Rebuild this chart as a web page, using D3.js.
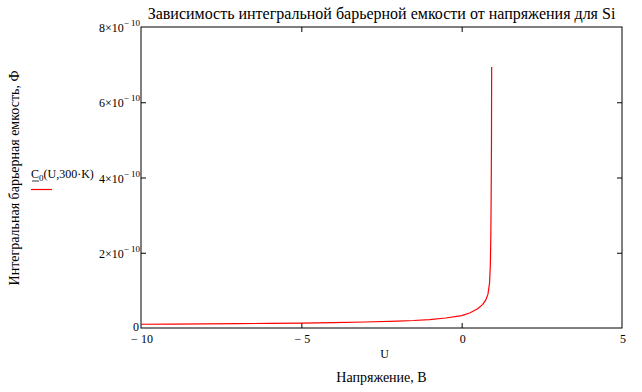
<!DOCTYPE html>
<html>
<head>
<meta charset="utf-8">
<script src="https://cdn.jsdelivr.net/npm/d3@7"></script>
<style>
  body { margin: 0; background: #fff; }
</style>
</head>
<body>
<div id="chart"></div>
<script>
// values (capacitance in farads vs voltage in volts)
var voltage = [-10, -9, -8, -7, -6, -5, -4, -3, -2, -1.5, -1, -0.5, 0, 0.25, 0.5, 0.65, 0.75, 0.82, 0.87, 0.895, 0.91, 0.92, 0.93, 0.935];
var capacity = [0.100e-10, 0.105e-10, 0.110e-10, 0.116e-10, 0.122e-10, 0.130e-10, 0.145e-10, 0.160e-10, 0.185e-10, 0.200e-10, 0.225e-10, 0.265e-10,
  0.330e-10, 0.400e-10, 0.510e-10, 0.620e-10, 0.740e-10, 0.900e-10, 1.20e-10, 1.70e-10, 2.50e-10, 3.50e-10, 5.00e-10, 6.94e-10];

var xTicks = [-10, -5, 0, 5];
var xTickLabels = ["\u2212 10", "\u2212 5", "0", "5"];
var yTicks = [0, 2e-10, 4e-10, 6e-10, 8e-10];
var yTickLabels = ["0", "2\u00d710", "4\u00d710", "6\u00d710", "8\u00d710"];
var yTickExp = ["", "\u2212 10", "\u2212 10", "\u2212 10", "\u2212 10"];

var title = "Зависимость интегральной барьерной емкости от напряжения для Si";
var xLabel = "Напряжение, В";
var xVarName = "U";
var yLabel = "Интегральная барьерная емкость, Ф";

var serif = "'Liberation Serif', 'Times New Roman', 'DejaVu Serif', serif";

var margin = { top: 27, right: 20, bottom: 64, left: 141 },
  width = 642 - margin.left - margin.right,
  height = 392 - margin.top - margin.bottom;

var x = d3.scaleLinear().domain([-10, 5]).range([0, width]);
var y = d3.scaleLinear().domain([0, 8e-10]).range([height, 0]);

var root = d3.select("#chart").append("svg")
  .attr("width", 642)
  .attr("height", 392)
  .attr("font-family", serif);

var svg = root.append("g")
  .attr("transform", "translate(" + margin.left + "," + margin.top + ")");

// frame
svg.append("rect")
  .attr("x", 0).attr("y", 0)
  .attr("width", width).attr("height", height)
  .attr("fill", "none")
  .attr("stroke", "#000")
  .attr("stroke-width", 1);

// inside ticks on all four sides, labels drawn separately
function tickAxis(axis, tx, ty) {
  var g = svg.append("g").attr("transform", "translate(" + tx + "," + ty + ")").call(axis);
  g.select(".domain").remove();
  g.selectAll("text").remove();
  g.selectAll("line").attr("stroke", "#000");
  return g;
}
var innerX = xTicks.slice(1, -1);
var innerY = yTicks.slice(1, -1);
tickAxis(d3.axisBottom(x).tickValues(innerX).tickSize(-5), 0, height);
tickAxis(d3.axisTop(x).tickValues(innerX).tickSize(-5), 0, 0);
tickAxis(d3.axisLeft(y).tickValues(innerY).tickSize(-5), 0, 0);
tickAxis(d3.axisRight(y).tickValues(innerY).tickSize(-5), width, 0);

// x tick labels
svg.append("g").selectAll("text")
  .data(xTicks)
  .enter()
  .append("text")
  .attr("x", function (d) { return x(d) + 1; })
  .attr("y", height + 15)
  .attr("text-anchor", "middle")
  .attr("font-family", serif)
  .style("font-size", "12px")
  .text(function (d, i) { return xTickLabels[i]; });

// y tick labels with superscript exponent
var yl = svg.append("g").selectAll("text")
  .data(yTicks)
  .enter()
  .append("text")
  .attr("x", function (d) { return d === 0 ? -2 : -1; })
  .attr("y", function (d) { return d === 0 ? y(d) + 3 : y(d) + 5; })
  .attr("text-anchor", "end")
  .attr("font-family", serif)
  .style("font-size", "12px");
yl.append("tspan").text(function (d, i) { return yTickLabels[i]; });
yl.append("tspan")
  .attr("dy", -6)
  .style("font-size", "9px")
  .text(function (d, i) { return yTickExp[i]; });

// curve
var line = d3.line()
  .x(function (d, i) { return x(voltage[i]); })
  .y(function (d) { return y(d); });

svg.append("path")
  .datum(capacity)
  .attr("d", line)
  .attr("fill", "none")
  .attr("stroke", "#ff0000")
  .attr("stroke-width", 1.2);

// title
root.append("text")
  .attr("x", margin.left + width / 2)
  .attr("y", 19)
  .attr("text-anchor", "middle")
  .style("font-size", "16px")
  .text(title);

// x variable name and axis title
root.append("text")
  .attr("x", margin.left + width / 2 + 3)
  .attr("y", 358)
  .attr("text-anchor", "middle")
  .style("font-size", "12px")
  .text(xVarName);

root.append("text")
  .attr("x", margin.left + width / 2)
  .attr("y", 382)
  .attr("text-anchor", "middle")
  .style("font-size", "14px")
  .text(xLabel);

// y axis title
root.append("text")
  .attr("transform", "translate(19,178) rotate(-90)")
  .attr("text-anchor", "middle")
  .style("font-size", "14px")
  .text(yLabel);

// legend
var leg = root.append("text")
  .attr("x", 31)
  .attr("y", 178)
  .style("font-size", "12px");
leg.append("tspan").text("C");
leg.append("tspan").attr("dy", 3).style("font-size", "9px").text("0");
leg.append("tspan").attr("dy", -3).text("(U,300\u00b7K)");

root.append("line")
  .attr("x1", 32).attr("x2", 39)
  .attr("y1", 181).attr("y2", 181)
  .attr("stroke", "#000")
  .attr("stroke-width", 0.8);

root.append("line")
  .attr("x1", 31).attr("x2", 52)
  .attr("y1", 189.5).attr("y2", 189.5)
  .attr("stroke", "#ff0000")
  .attr("stroke-width", 1.2);
</script>
</body>
</html>
